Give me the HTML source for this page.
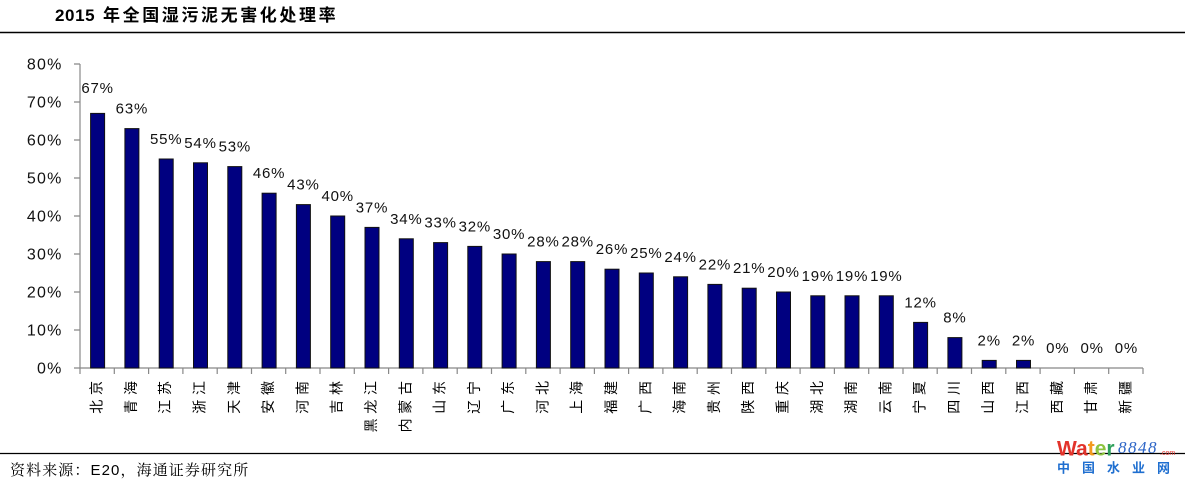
<!DOCTYPE html>
<html>
<head>
<meta charset="utf-8">
<style>
html,body{margin:0;padding:0;background:#fff;}
svg{display:block;}
.ax{font-family:"Liberation Sans",Arial,sans-serif;font-size:16px;fill:#111;letter-spacing:1.2px;}
.dl{font-family:"Liberation Sans",Arial,sans-serif;font-size:15px;fill:#111;letter-spacing:0.8px;}
.cat{font-family:"Liberation Sans","Noto Sans CJK SC",sans-serif;font-size:14px;fill:#000;}
</style>
</head>
<body>
<svg width="1185" height="484" viewBox="0 0 1185 484" xmlns="http://www.w3.org/2000/svg">
<rect width="1185" height="484" fill="#fff"/>
<!-- title -->
<text x="55" y="21" font-family="Liberation Sans, Arial, sans-serif" font-weight="bold" font-size="17" letter-spacing="0.6" fill="#000">2015</text>
<text x="103" y="21" font-family="Liberation Sans, Noto Sans CJK SC, sans-serif" font-weight="bold" font-size="17" letter-spacing="2.6" fill="#000">年全国湿污泥无害化处理率</text>
<line x1="0" y1="32.5" x2="1185" y2="32.5" stroke="#000" stroke-width="1.5"/>

<!-- axes -->
<g stroke="#888" stroke-width="1.2" fill="none">
<path d="M80,64V368H1143"/>
<path d="M74,64H80M74,102H80M74,140H80M74,178H80M74,216H80M74,254H80M74,292H80M74,330H80M74,368H80"/>
<path d="M80,368V374M114.3,368V374M148.6,368V374M182.9,368V374M217.2,368V374M251.5,368V374M285.7,368V374M320,368V374M354.3,368V374M388.6,368V374M422.9,368V374M457.2,368V374M491.5,368V374M525.8,368V374M560.1,368V374M594.4,368V374M628.6,368V374M662.9,368V374M697.2,368V374M731.5,368V374M765.8,368V374M800.1,368V374M834.4,368V374M868.7,368V374M903,368V374M937.2,368V374M971.5,368V374M1005.8,368V374M1040.1,368V374M1074.4,368V374M1108.7,368V374M1143,368V374"/>
</g>

<!-- y labels -->
<g class="ax" text-anchor="end">
<text x="62.5" y="69.5">80%</text>
<text x="62.5" y="107.5">70%</text>
<text x="62.5" y="145.5">60%</text>
<text x="62.5" y="183.5">50%</text>
<text x="62.5" y="221.5">40%</text>
<text x="62.5" y="259.5">30%</text>
<text x="62.5" y="297.5">20%</text>
<text x="62.5" y="335.5">10%</text>
<text x="62.5" y="373.5">0%</text>
</g>

<!-- bars -->
<g fill="#000080" stroke="#111" stroke-width="1">
<rect x="90.6" y="113.4" width="14" height="254.6"/>
<rect x="124.9" y="128.6" width="14" height="239.4"/>
<rect x="159.2" y="159" width="14" height="209"/>
<rect x="193.5" y="162.8" width="14" height="205.2"/>
<rect x="227.8" y="166.6" width="14" height="201.4"/>
<rect x="262.1" y="193.2" width="14" height="174.8"/>
<rect x="296.4" y="204.6" width="14" height="163.4"/>
<rect x="330.7" y="216" width="14" height="152"/>
<rect x="365" y="227.4" width="14" height="140.6"/>
<rect x="399.3" y="238.8" width="14" height="129.2"/>
<rect x="433.6" y="242.6" width="14" height="125.4"/>
<rect x="467.8" y="246.4" width="14" height="121.6"/>
<rect x="502.1" y="254" width="14" height="114"/>
<rect x="536.4" y="261.6" width="14" height="106.4"/>
<rect x="570.7" y="261.6" width="14" height="106.4"/>
<rect x="605" y="269.2" width="14" height="98.8"/>
<rect x="639.3" y="273" width="14" height="95"/>
<rect x="673.6" y="276.8" width="14" height="91.2"/>
<rect x="707.9" y="284.4" width="14" height="83.6"/>
<rect x="742.2" y="288.2" width="14" height="79.8"/>
<rect x="776.5" y="292" width="14" height="76"/>
<rect x="810.8" y="295.8" width="14" height="72.2"/>
<rect x="845" y="295.8" width="14" height="72.2"/>
<rect x="879.3" y="295.8" width="14" height="72.2"/>
<rect x="913.6" y="322.4" width="14" height="45.6"/>
<rect x="947.9" y="337.6" width="14" height="30.4"/>
<rect x="982.2" y="360.4" width="14" height="7.6"/>
<rect x="1016.5" y="360.4" width="14" height="7.6"/>
</g>

<!-- data labels -->
<g class="dl" text-anchor="middle">
<text x="97.6" y="93">67%</text>
<text x="131.9" y="113.6">63%</text>
<text x="166.2" y="144">55%</text>
<text x="200.5" y="147.8">54%</text>
<text x="234.8" y="151.6">53%</text>
<text x="269.1" y="178.2">46%</text>
<text x="303.4" y="189.6">43%</text>
<text x="337.7" y="201">40%</text>
<text x="372" y="212.4">37%</text>
<text x="406.3" y="223.8">34%</text>
<text x="440.6" y="227.6">33%</text>
<text x="474.8" y="231.4">32%</text>
<text x="509.1" y="239">30%</text>
<text x="543.4" y="246.6">28%</text>
<text x="577.7" y="246.6">28%</text>
<text x="612" y="254.2">26%</text>
<text x="646.3" y="258">25%</text>
<text x="680.6" y="261.8">24%</text>
<text x="714.9" y="269.4">22%</text>
<text x="749.2" y="273.2">21%</text>
<text x="783.5" y="277">20%</text>
<text x="817.8" y="280.8">19%</text>
<text x="852" y="280.8">19%</text>
<text x="886.3" y="280.8">19%</text>
<text x="920.6" y="307.4">12%</text>
<text x="954.9" y="322.6">8%</text>
<text x="989.2" y="345.4">2%</text>
<text x="1023.5" y="345.4">2%</text>
<text x="1057.8" y="353">0%</text>
<text x="1092.1" y="353">0%</text>
<text x="1126.4" y="353">0%</text>
</g>

<!-- category labels (rotated characters) -->
<g class="cat" text-anchor="middle" dominant-baseline="central">
<text transform="translate(96.6,406.7) rotate(-90)">北</text><text transform="translate(96.6,388) rotate(-90)">京</text>
<text transform="translate(130.9,406.7) rotate(-90)">青</text><text transform="translate(130.9,388) rotate(-90)">海</text>
<text transform="translate(165.2,406.7) rotate(-90)">江</text><text transform="translate(165.2,388) rotate(-90)">苏</text>
<text transform="translate(199.5,406.7) rotate(-90)">浙</text><text transform="translate(199.5,388) rotate(-90)">江</text>
<text transform="translate(233.8,406.7) rotate(-90)">天</text><text transform="translate(233.8,388) rotate(-90)">津</text>
<text transform="translate(268.1,406.7) rotate(-90)">安</text><text transform="translate(268.1,388) rotate(-90)">徽</text>
<text transform="translate(302.4,406.7) rotate(-90)">河</text><text transform="translate(302.4,388) rotate(-90)">南</text>
<text transform="translate(336.7,406.7) rotate(-90)">吉</text><text transform="translate(336.7,388) rotate(-90)">林</text>
<text transform="translate(371,425.4) rotate(-90)">黑</text><text transform="translate(371,406.7) rotate(-90)">龙</text><text transform="translate(371,388) rotate(-90)">江</text>
<text transform="translate(405.3,425.4) rotate(-90)">内</text><text transform="translate(405.3,406.7) rotate(-90)">蒙</text><text transform="translate(405.3,388) rotate(-90)">古</text>
<text transform="translate(439.6,406.7) rotate(-90)">山</text><text transform="translate(439.6,388) rotate(-90)">东</text>
<text transform="translate(473.8,406.7) rotate(-90)">辽</text><text transform="translate(473.8,388) rotate(-90)">宁</text>
<text transform="translate(508.1,406.7) rotate(-90)">广</text><text transform="translate(508.1,388) rotate(-90)">东</text>
<text transform="translate(542.4,406.7) rotate(-90)">河</text><text transform="translate(542.4,388) rotate(-90)">北</text>
<text transform="translate(576.7,406.7) rotate(-90)">上</text><text transform="translate(576.7,388) rotate(-90)">海</text>
<text transform="translate(611,406.7) rotate(-90)">福</text><text transform="translate(611,388) rotate(-90)">建</text>
<text transform="translate(645.3,406.7) rotate(-90)">广</text><text transform="translate(645.3,388) rotate(-90)">西</text>
<text transform="translate(679.6,406.7) rotate(-90)">海</text><text transform="translate(679.6,388) rotate(-90)">南</text>
<text transform="translate(713.9,406.7) rotate(-90)">贵</text><text transform="translate(713.9,388) rotate(-90)">州</text>
<text transform="translate(748.2,406.7) rotate(-90)">陕</text><text transform="translate(748.2,388) rotate(-90)">西</text>
<text transform="translate(782.5,406.7) rotate(-90)">重</text><text transform="translate(782.5,388) rotate(-90)">庆</text>
<text transform="translate(816.8,406.7) rotate(-90)">湖</text><text transform="translate(816.8,388) rotate(-90)">北</text>
<text transform="translate(851,406.7) rotate(-90)">湖</text><text transform="translate(851,388) rotate(-90)">南</text>
<text transform="translate(885.3,406.7) rotate(-90)">云</text><text transform="translate(885.3,388) rotate(-90)">南</text>
<text transform="translate(919.6,406.7) rotate(-90)">宁</text><text transform="translate(919.6,388) rotate(-90)">夏</text>
<text transform="translate(953.9,406.7) rotate(-90)">四</text><text transform="translate(953.9,388) rotate(-90)">川</text>
<text transform="translate(988.2,406.7) rotate(-90)">山</text><text transform="translate(988.2,388) rotate(-90)">西</text>
<text transform="translate(1022.5,406.7) rotate(-90)">江</text><text transform="translate(1022.5,388) rotate(-90)">西</text>
<text transform="translate(1056.8,406.7) rotate(-90)">西</text><text transform="translate(1056.8,388) rotate(-90)">藏</text>
<text transform="translate(1091.1,406.7) rotate(-90)">甘</text><text transform="translate(1091.1,388) rotate(-90)">肃</text>
<text transform="translate(1125.4,406.7) rotate(-90)">新</text><text transform="translate(1125.4,388) rotate(-90)">疆</text>
</g>

<!-- bottom line & source -->
<line x1="0" y1="453.5" x2="1185" y2="453.5" stroke="#000" stroke-width="1.3"/>
<text x="10" y="475" font-family="Liberation Sans, Noto Serif CJK SC, serif" font-size="15" letter-spacing="1.1" fill="#000">资料来源：E20，海通证券研究所</text>

<!-- logo -->
<text x="1057" y="455.5" font-family="Liberation Sans, Arial, sans-serif" font-weight="bold" font-size="21"><tspan fill="#e2332b">W</tspan><tspan fill="#e2332b">a</tspan><tspan fill="#f39a1e">t</tspan><tspan fill="#8dc43f">e</tspan><tspan fill="#2fa05a">r</tspan></text>
<text x="1118" y="453" font-family="Liberation Serif, serif" font-style="italic" font-size="17" letter-spacing="1.5" fill="#2a63c6">8848</text>
<text x="1160" y="455" font-family="Liberation Sans, sans-serif" font-size="7" fill="#e2332b">.com</text>
<text x="1057" y="472.5" font-family="Liberation Sans, Noto Sans CJK SC, sans-serif" font-weight="bold" font-size="13" letter-spacing="12" fill="#1f6fd0">中国水业网</text>
</svg>
</body>
</html>
